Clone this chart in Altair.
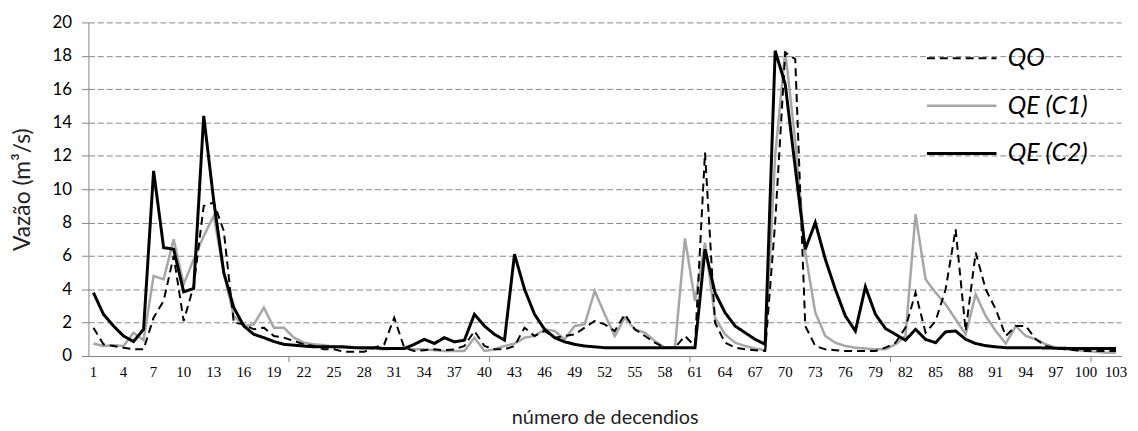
import altair as alt
import pandas as pd

# ---------------- data ----------------
decendios = list(range(1, 104))
series_names = ["QO", "QE (C1)", "QE (C2)"]

qo = [1.7, 0.7, 0.6, 0.5, 0.4, 0.4, 2.3, 3.3, 6.0, 2.1,
      4.2, 9.0, 9.2, 7.5, 2.0, 1.9, 1.6, 1.7, 1.2, 1.1,
      0.9, 0.7, 0.6, 0.4, 0.4, 0.25, 0.25, 0.25, 0.5, 0.7,
      2.3, 0.5, 0.3, 0.35, 0.4, 0.35, 0.4, 0.6, 1.5, 0.6,
      0.4, 0.4, 0.6, 1.7, 1.2, 1.5, 1.1, 1.2, 1.3, 1.7,
      2.1, 1.9, 1.5, 2.5, 1.6, 1.2, 0.8, 0.5, 0.5, 1.2,
      0.6, 12.2, 2.0, 0.8, 0.5, 0.4, 0.35, 0.3, 8.0, 18.2,
      17.8, 1.8, 0.6, 0.4, 0.35, 0.3, 0.3, 0.3, 0.3, 0.5,
      0.8, 1.7, 3.8, 1.4, 2.1, 4.0, 7.6, 1.5, 6.2, 4.0,
      2.8, 1.2, 1.8, 1.8, 1.0, 0.6, 0.45, 0.4, 0.35, 0.3,
      0.3, 0.3, 0.3]

qe_c1 = [0.75, 0.6, 0.65, 0.6, 1.4, 0.95, 4.8, 4.6, 7.0, 4.3,
         5.8, 7.2, 8.4, 5.0, 2.4, 1.8, 1.9, 2.9, 1.7, 1.7,
         1.1, 0.8, 0.7, 0.65, 0.55, 0.5, 0.5, 0.45, 0.45, 0.4,
         0.45, 0.45, 0.4, 0.4, 0.35, 0.3, 0.3, 0.3, 1.1, 0.3,
         0.4, 0.6, 0.75, 1.1, 1.2, 1.6, 1.5, 1.0, 1.8, 1.9,
         3.9, 2.5, 1.2, 2.3, 1.6, 1.4, 0.9, 0.5, 0.5, 7.05,
         3.3, 6.8, 2.3, 1.3, 0.8, 0.6, 0.45, 0.35, 12.0, 18.3,
         12.9, 6.2, 2.6, 1.2, 0.8, 0.6, 0.5, 0.45, 0.4, 0.4,
         0.7, 1.2, 8.5, 4.6, 3.8, 3.1, 2.2, 1.3, 3.7, 2.4,
         1.5, 0.75, 1.8, 1.2, 1.0, 0.7, 0.5, 0.4, 0.35, 0.3,
         0.25, 0.2, 0.2]

qe_c2 = [3.8, 2.5, 1.8, 1.2, 0.87, 1.6, 11.1, 6.5, 6.4, 3.85,
         4.05, 14.4, 9.3, 5.0, 2.9, 1.8, 1.3, 1.1, 0.87, 0.7,
         0.65, 0.6, 0.55, 0.55, 0.55, 0.55, 0.5, 0.5, 0.5, 0.45,
         0.45, 0.45, 0.7, 1.0, 0.75, 1.1, 0.85, 0.95, 2.5, 1.8,
         1.3, 0.95, 6.1, 4.0, 2.5, 1.6, 1.1, 0.85, 0.7, 0.6,
         0.55, 0.5, 0.5, 0.5, 0.5, 0.5, 0.5, 0.5, 0.5, 0.5,
         0.5, 6.4, 3.8, 2.6, 1.8, 1.4, 1.0, 0.7, 18.3, 16.3,
         11.3, 6.4, 8.0, 5.8, 4.0, 2.4, 1.5, 4.15, 2.5, 1.65,
         1.3, 0.95, 1.6, 1.0, 0.8, 1.45, 1.5, 1.0, 0.75, 0.62,
         0.55, 0.5, 0.5, 0.5, 0.5, 0.48, 0.47, 0.46, 0.45, 0.45,
         0.45, 0.45, 0.45]

y_tick_values = list(range(0, 21, 2))
x_label_values = list(range(1, 104, 3))
x_major_ticks = [20.5, 40.5, 60.5, 80.5, 100.5]

rows = []
for name, vals in zip(series_names, [qo, qe_c1, qe_c2]):
    for d, v in zip(decendios, vals):
        rows.append({"decendio": d, "vazao": v, "serie": name})
df = pd.DataFrame(rows)

# ---------------- chart ----------------
W, H = 1040, 336
AXIS_GREY = "#868686"

xscale = alt.Scale(domain=[0.5, 103.5], nice=False, zero=False)
yscale = alt.Scale(domain=[0, 20], nice=False)

x_axis = alt.Axis(values=x_label_values, labels=False, ticks=False, grid=False,
                  domainColor=AXIS_GREY,
                  title="número de decendios", titleFont="Lato", titleFontSize=20,
                  titleFontWeight="normal", titleColor="#222222", titlePadding=52)
y_axis = alt.Axis(values=y_tick_values, grid=True, gridDash=[6, 3], gridColor=AXIS_GREY,
                  tickSize=7, tickColor=AXIS_GREY, domainColor=AXIS_GREY,
                  labelFont="Lato", labelFontSize=17, labelColor="#000000", labelPadding=10,
                  title="Vazão (m³/s)", titleFont="Lato", titleFontSize=23,
                  titleFontWeight="normal", titleColor="#222222", titlePadding=18)

legend = alt.Legend(title=None, orient="none", legendX=843, legendY=26,
                    symbolType="stroke", symbolSize=4900, clipHeight=20, rowPadding=23,
                    labelFont="Lato", labelFontSize=25, labelFontStyle="italic",
                    labelColor="#000000", labelOffset=10, padding=0)

enc = dict(
    x=alt.X("decendio:Q", scale=xscale, axis=x_axis),
    y=alt.Y("vazao:Q", scale=yscale, axis=y_axis),
    color=alt.Color("serie:N", scale=alt.Scale(domain=series_names,
                    range=["#000000", "#a6a6a6", "#000000"]), legend=legend),
    strokeDash=alt.StrokeDash("serie:N", scale=alt.Scale(domain=series_names,
                    range=[[8, 5], [1, 0], [1, 0]]), legend=legend),
    strokeWidth=alt.StrokeWidth("serie:N", scale=alt.Scale(domain=series_names,
                    range=[2, 3, 3.2]), legend=legend),
)

base = alt.Chart(df).mark_line(strokeJoin="miter").encode(**enc)

layer_c1 = base.transform_filter(alt.datum.serie == "QE (C1)")
layer_c2 = base.transform_filter(alt.datum.serie == "QE (C2)")
layer_qo = base.transform_filter(alt.datum.serie == "QO")

ticks = alt.Chart(pd.DataFrame({"t": x_major_ticks})).mark_rule(color=AXIS_GREY).encode(
    x=alt.X("t:Q", scale=xscale, axis=x_axis),
    y=alt.value(H), y2=alt.value(H + 6))

# category labels along the x axis
xlabels = alt.Chart(pd.DataFrame({"d": x_label_values})).mark_text(
    align="center", baseline="top", font="Liberation Serif",
    fontSize=15, color="#000000"
).encode(
    x=alt.X("d:Q", scale=xscale, axis=x_axis),
    y=alt.value(H + 9),
    text=alt.Text("d:Q"),
)

chart = alt.layer(layer_c1, layer_c2, layer_qo, ticks, xlabels).properties(
    width=W, height=H,
    background="white",
    autosize=alt.AutoSizeParams(type="none"),
    padding={"left": 81, "top": 13, "right": 9, "bottom": 74},
).configure_view(stroke=None)

chart.save("out.html", embed_options={"renderer": "svg", "actions": False})
